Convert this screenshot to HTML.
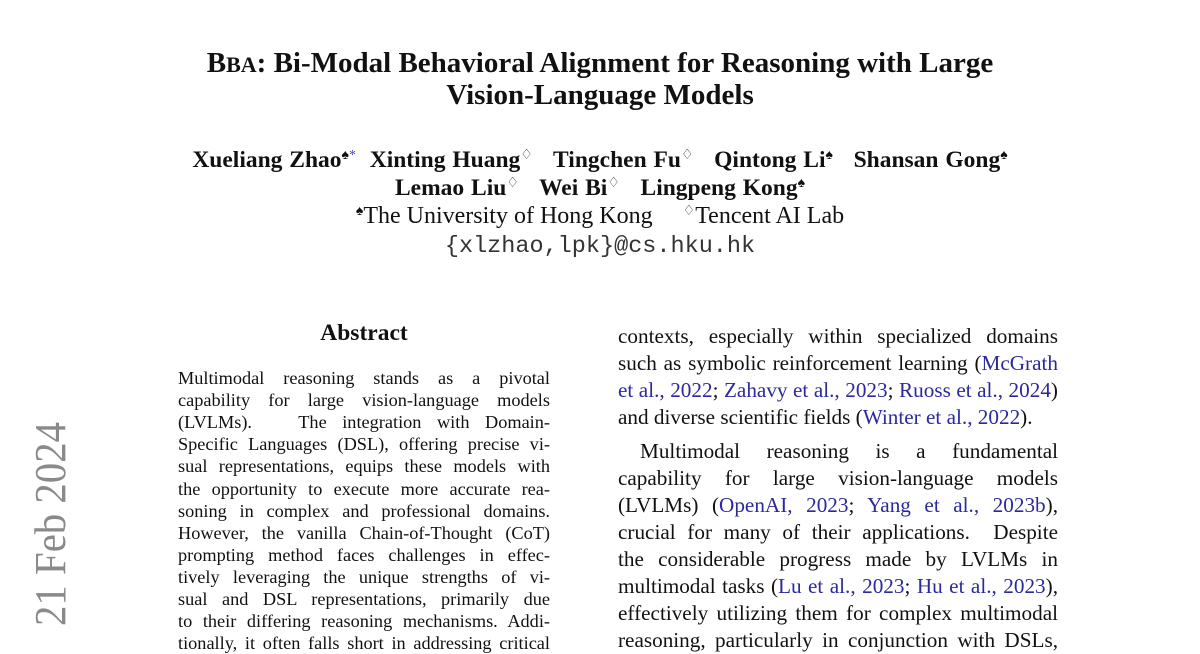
<!DOCTYPE html>
<html><head><meta charset="utf-8"><style>
body{margin:0;width:1200px;height:648px;overflow:hidden;background:#fff;position:relative;font-family:"Liberation Serif",serif;color:#111}
.c{position:absolute;left:0;width:1200px;text-align:center;white-space:nowrap}
.t{font-weight:bold;font-size:29px}
.a{font-weight:bold;font-size:23.5px;word-spacing:1px}
sup{font-size:14px;vertical-align:8px;font-weight:normal}
.l{position:absolute;white-space:nowrap;text-align:justify;text-align-last:justify}
.ab .l{left:178px;width:372px;font-size:18.3px;height:22px;line-height:22px}
.rc .l{left:618px;width:440px;font-size:21.2px;height:27px;line-height:27px}
.nl{text-align-last:left!important}
.b{color:#2a2a9c}
.sc{font-size:22px}
</style></head><body>
<svg style="position:absolute;left:0;top:0" width="100" height="648"><text transform="translate(65,626) rotate(-90)" font-family="Liberation Serif, serif" font-size="44" fill="#8a8a8a" textLength="204" lengthAdjust="spacingAndGlyphs">21 Feb 2024</text></svg>
<div class="c t" style="top:47px">B<span class="sc">BA</span>: Bi-Modal Behavioral Alignment for Reasoning with Large</div>
<div class="c t" style="top:79px">Vision-Language Models</div>
<div class="c a" style="top:147px">Xueliang Zhao<sup>♠<span style="color:#44c">*</span></sup>&nbsp; Xinting Huang<sup>♢</sup>&nbsp;&nbsp; Tingchen Fu<sup>♢</sup>&nbsp;&nbsp; Qintong Li<sup>♠</sup>&nbsp;&nbsp; Shansan Gong<sup>♠</sup></div>
<div class="c a" style="top:175px">Lemao Liu<sup>♢</sup>&nbsp;&nbsp; Wei Bi<sup>♢</sup>&nbsp;&nbsp; Lingpeng Kong<sup>♠</sup></div>
<div class="c" style="top:203px;font-size:24px"><sup>♠</sup>The University of Hong Kong &nbsp;&nbsp;&nbsp; <sup>♢</sup>Tencent AI Lab</div>
<div class="c" style="top:233px;font-size:23.5px;font-family:'Liberation Mono',monospace;color:#333">{xlzhao,lpk}@cs.hku.hk</div>
<div style="position:absolute;left:178px;width:372px;top:320px;text-align:center;font-weight:bold;font-size:23.5px">Abstract</div>
<div class="ab">
<div class="l" style="top:367px">Multimodal reasoning stands as a pivotal</div>
<div class="l" style="top:389px">capability for large vision-language models</div>
<div class="l" style="top:411px">(LVLMs). &nbsp; The integration with Domain-</div>
<div class="l" style="top:433px">Specific Languages (DSL), offering precise vi-</div>
<div class="l" style="top:455px">sual representations, equips these models with</div>
<div class="l" style="top:478px">the opportunity to execute more accurate rea-</div>
<div class="l" style="top:500px">soning in complex and professional domains.</div>
<div class="l" style="top:522px">However, the vanilla Chain-of-Thought (CoT)</div>
<div class="l" style="top:544px">prompting method faces challenges in effec-</div>
<div class="l" style="top:566px">tively leveraging the unique strengths of vi-</div>
<div class="l" style="top:588px">sual and DSL representations, primarily due</div>
<div class="l" style="top:610px">to their differing reasoning mechanisms. Addi-</div>
<div class="l" style="top:632px">tionally, it often falls short in addressing critical</div>
</div>
<div class="rc">
<div class="l" style="top:323px">contexts, especially within specialized domains</div>
<div class="l" style="top:350px">such as symbolic reinforcement learning (<span class="b">McGrath</span></div>
<div class="l" style="top:377px"><span class="b">et al., 2022</span>; <span class="b">Zahavy et al., 2023</span>; <span class="b">Ruoss et al., 2024</span>)</div>
<div class="l nl" style="top:404px">and diverse scientific fields (<span class="b">Winter et al., 2022</span>).</div>
<div class="l" style="top:438px;left:640px;width:418px">Multimodal reasoning is a fundamental</div>
<div class="l" style="top:465px">capability for large vision-language models</div>
<div class="l" style="top:492px">(LVLMs) (<span class="b">OpenAI, 2023</span>; <span class="b">Yang et al., 2023b</span>),</div>
<div class="l" style="top:519px">crucial for many of their applications. &nbsp;Despite</div>
<div class="l" style="top:546px">the considerable progress made by LVLMs in</div>
<div class="l" style="top:573px">multimodal tasks (<span class="b">Lu et al., 2023</span>; <span class="b">Hu et al., 2023</span>),</div>
<div class="l" style="top:600px">effectively utilizing them for complex multimodal</div>
<div class="l" style="top:627px">reasoning, particularly in conjunction with DSLs,</div>
</div>
</body></html>
